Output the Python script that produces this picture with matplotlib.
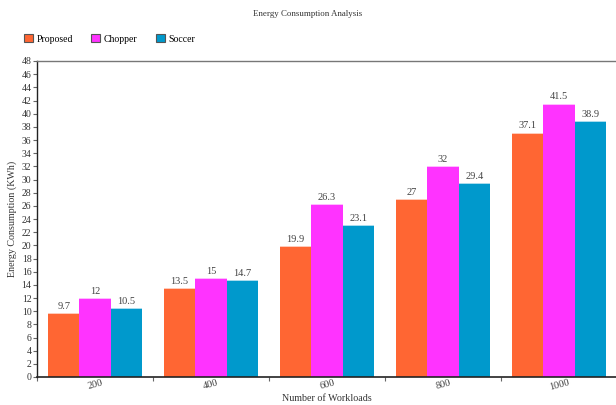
import matplotlib
matplotlib.use("Agg")
import matplotlib.pyplot as plt
import numpy as np

workloads = ["200", "400", "600", "800", "1000"]
proposed = [9.7, 13.5, 19.9, 27, 37.1]
chopper = [12, 15, 26.3, 32, 41.5]
soccer = [10.5, 14.7, 23.1, 29.4, 38.9]
series_names = ["Proposed", "Chopper", "Soccer"]
series_colors = ["#FF6633", "#FF33FF", "#0099CC"]
y_ticks = list(range(0, 49, 2))

plt.rcParams["font.family"] = ["Liberation Serif", "DejaVu Serif"]

fig = plt.figure(figsize=(6.16, 4.05), dpi=100)
ax = fig.add_axes([37 / 616, 1 - 377 / 405, 580 / 616, 316 / 405])

x = np.arange(len(workloads))
bw = 0.27
series = [proposed, chopper, soccer]
for i, (vals, name, col) in enumerate(zip(series, series_names, series_colors)):
    pos = x + (i - 1) * bw
    ax.bar(pos, vals, width=bw, color=col, label=name, edgecolor="none", zorder=2)
    for xp, v in zip(pos, vals):
        ax.plot([xp - bw / 2, xp + bw / 2], [v, v], color="white", lw=1.2,
                alpha=0.8, zorder=3, solid_capstyle="butt")
        ax.text(xp, v + 0.35, f"{v:g}", ha="center", va="bottom",
                fontsize=7.5, color="#444444", zorder=4)

ax.set_xlim(-0.5, len(workloads) - 0.5)
ax.set_ylim(0, 48)
ax.set_yticks(y_ticks)
ax.set_yticklabels([str(t) for t in y_ticks], fontsize=7, color="#333333")
ax.tick_params(axis="y", length=3, width=0.8, color="#666666", pad=1)

ax.set_xticks(x)
ax.set_xticklabels(workloads, rotation=15, fontsize=7.5, color="#444444")
ax.tick_params(axis="x", length=0, pad=1)
ax.set_xticks(np.arange(len(workloads) + 1) - 0.5, minor=True)
ax.tick_params(axis="x", which="minor", length=3, width=0.8, color="#666666")

ax.spines["right"].set_visible(False)
ax.spines["top"].set_color("#777777")
ax.spines["top"].set_linewidth(1)
ax.spines["left"].set_color("#222222")
ax.spines["left"].set_linewidth(1)
ax.spines["bottom"].set_color("#222222")
ax.spines["bottom"].set_linewidth(1.2)

ax.set_ylabel("Energy Consumption (KWh)", fontsize=7.2, color="#333333", labelpad=3)
ax.set_xlabel("Number of Workloads", fontsize=7.2, color="#333333", labelpad=1)

fig.text(0.5, 1 - 14 / 405, "Energy Consumption Analysis", ha="center", va="center",
         fontsize=6.4, color="#333333")

handles = [plt.Rectangle((0, 0), 1, 1, facecolor=c, edgecolor="#555555", lw=0.8)
           for c in series_colors]
fig.legend(handles, series_names, loc="center left",
           bbox_to_anchor=(24 / 616, 1 - 39 / 405), ncol=3, frameon=False,
           fontsize=7, handlelength=0.9, handleheight=0.9, handletextpad=0.4,
           columnspacing=1.9, borderaxespad=0, borderpad=0)

fig.savefig("out.png", dpi=100)
